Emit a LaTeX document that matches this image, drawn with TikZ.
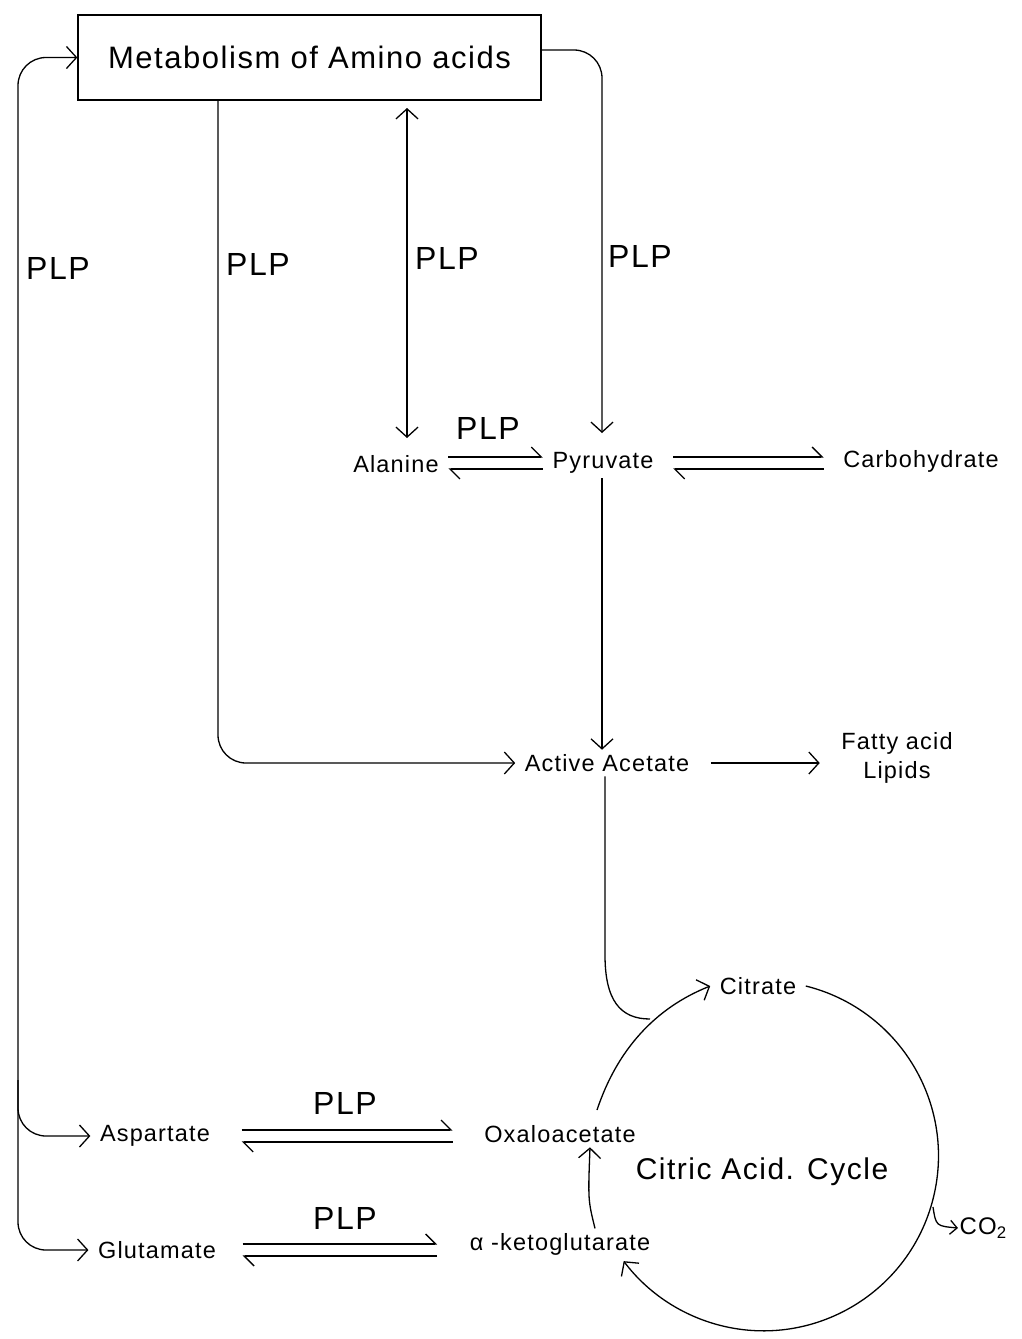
\documentclass[tikz,border=0pt]{standalone}
\usepackage{fontspec}
\setmainfont{Liberation Sans}[LetterSpace=5]
\usetikzlibrary{arrows.meta,calc}
\begin{document}
\begin{tikzpicture}[x=1pt,y=-1pt,
  line width=1.3pt,
  >={Straight Barb[length=10pt,width=22pt]},
  hp/.style={-{Straight Barb[left,length=10pt,width=20pt]}},
  sm/.style={font=\fontsize{23.5}{29}\selectfont, inner xsep=9pt, inner ysep=4pt},
  plp/.style={font=\fontsize{32}{36}\selectfont, inner sep=0pt},
  big/.style={font=\fontsize{31}{36}\selectfont},
  rc/.style={rounded corners=28pt}]
\useasboundingbox (0,0) rectangle (1021,1339);

% nodes
\node[draw, minimum width=463pt, minimum height=85pt, big] (box) at (309.5,57.5) {Metabolism of Amino acids};
\node[sm] (ala) at (396,464) {Alanine};
\node[sm] (pyr) at (603,463) {Pyruvate};
\node[sm] (carb) at (921,461) {Carbohydrate};
\node[sm] (acet) at (607,763) {Active Acetate};
\node[sm, align=center] (fat) at (897,758) {Fatty acid\\Lipids};
\node[sm] (cit) at (758,986) {Citrate};
\node[sm] (oxa) at (560,1134) {Oxaloacetate};
\node[sm] (akg) at (560,1244) {α -ketoglutarate};
\node[sm] (asp) at (155,1136) {Aspartate};
\node[sm] (glu) at (157,1250) {Glutamate};
\node[font=\fontsize{30}{36}\selectfont] (tca) at (762,1172) {Citric Acid. Cycle};
\node[font=\fontsize{24}{28}\selectfont, anchor=west, inner sep=1pt] (co2) at (958,1228) {CO\textsubscript{2}};

\node[plp] (p1) at (58,268) {PLP};
\node[plp] (p2) at (258,264) {PLP};
\node[plp] (p3) at (447,258) {PLP};
\node[plp] (p4) at (640,256) {PLP};
\node[plp] (p5) at (488,428) {PLP};
\node[plp] (p6) at (345,1103) {PLP};
\node[plp] (p7) at (345,1218) {PLP};

% coordinates
\coordinate (lt) at (18,57.5);
\coordinate (la) at (18,1080);
\coordinate (b1) at (218,100);
\coordinate (d1) at (407,108);
\coordinate (d2) at (407,438);
\coordinate (r0) at (541,50);
\coordinate (r1) at (602,433);
\coordinate (a0) at (605,955);
\coordinate (j1) at (650,1019);
\coordinate (o1) at (597,1110);
\coordinate (c1) at (933,1207);

% left loop
\draw[<->, rc] (glu.west) -| (lt) -- (box.west);
\draw[->, rc] (la) |- (asp.west);
% box bottom to active acetate
\draw[->, rc] (b1) |- (acet.west);
% double arrow
\draw[<->] (d1) -- (d2);
% box right to pyruvate
\draw[->, rc] (r0) -| (r1);
% pyruvate to acetate
\draw[->] ($(pyr.south)+(-1,0)$) -- ($(acet.north)+(-5,0)$);
% acetate to fatty acid
\draw[->, shorten >=12pt, shorten <=12pt] (acet.east) -- (acet.east -| fat.west);

% equilibria
\draw[hp] ($(ala.east |- pyr.west)+(0,-6)$) -- ($(pyr.west)+(0,-6)$);
\draw[hp] ($(pyr.west)+(0,6)$) -- ($(ala.east |- pyr.west)+(0,6)$);
\draw[hp, shorten <=10pt, shorten >=10pt] ($(pyr.east)+(0,-6)$) -- ($(carb.west |- pyr.east)+(0,-6)$);
\draw[hp, shorten <=10pt, shorten >=10pt] ($(carb.west |- pyr.east)+(0,6)$) -- ($(pyr.east)+(0,6)$);
\draw[hp, shorten <=22pt, shorten >=22pt] ($(asp.east)+(0,-6)$) -- ($(oxa.west |- asp.east)+(0,-6)$);
\draw[hp, shorten <=22pt, shorten >=22pt] ($(oxa.west |- asp.east)+(0,6)$) -- ($(asp.east)+(0,6)$);
\draw[hp, shorten <=17pt, shorten >=23pt] ($(glu.east)+(0,-6)$) -- ($(akg.west |- glu.east)+(0,-6)$);
\draw[hp, shorten <=23pt, shorten >=17pt] ($(akg.west |- glu.east)+(0,6)$) -- ($(glu.east)+(0,6)$);

% acetate into cycle
\draw ($(acet.south)+(-2,0)$) -- (a0) .. controls (605,1000) and (620,1019) .. (j1);
% cycle
\draw[->] (cit.east) arc[start angle=-76, end angle=143, radius=175];
\draw[->] (o1) .. controls (617,1050) and (655,1008) .. (cit.west);
\draw[->] ($(akg.north)+(35,0)$) .. controls (588,1200) .. ($(oxa.south)+(30,0)$);
\draw[->, >={Straight Barb[length=7pt,width=14pt]}] (c1) .. controls (936,1226) .. (co2.west);
\end{tikzpicture}
\end{document}
